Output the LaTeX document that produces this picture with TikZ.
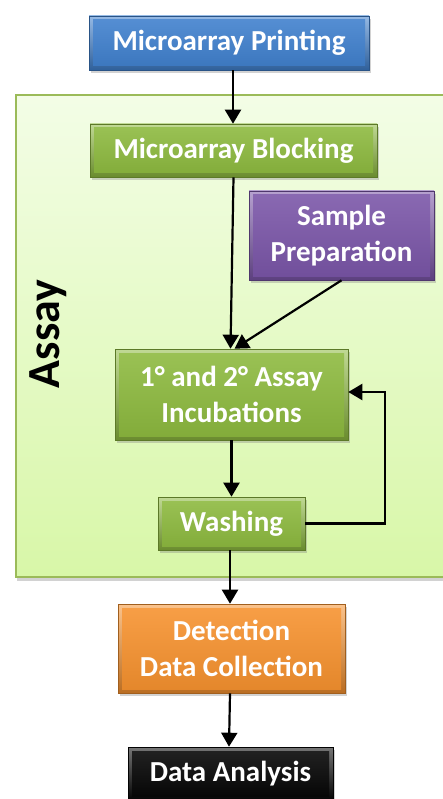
\documentclass[tikz,border=0pt]{standalone}
\usepackage{fontspec}
\setmainfont{Carlito}
\usetikzlibrary{shadows,arrows.meta}
\definecolor{blueC}{HTML}{3F80CE}
\definecolor{greenC}{HTML}{8DBA3E}
\definecolor{purpleC}{HTML}{7A55A8}
\definecolor{orangeC}{HTML}{F7922E}
\definecolor{blackC}{HTML}{050505}
\definecolor{frameC}{HTML}{9BBB59}
\definecolor{panelTop}{HTML}{F3FDE6}
\definecolor{panelBot}{HTML}{D8F7A8}
\tikzset{
  box/.style={rectangle, draw=#1!65!black, line width=0.6pt,
    top color=#1!55!white, bottom color=#1!75!black,
    text=white, font=\fontsize{29}{36}\selectfont\bfseries, align=center,
    inner sep=0pt,
    drop shadow={shadow xshift=2pt, shadow yshift=-3pt, opacity=0.35},
    path picture={\shade[top color=#1!88!white, bottom color=#1!92!black]
      ([shift={(4pt,-4pt)}]path picture bounding box.north west) rectangle
      ([shift={(-4pt,4pt)}]path picture bounding box.south east);}},
  arr/.style={line width=2.2pt, -{Triangle[width=16pt,length=14pt]}},
}
\begin{document}
\begin{tikzpicture}[x=1pt,y=-1pt]
\useasboundingbox (0,0) rectangle (442,799);
\fill[white] (0,0) rectangle (442,799);
% Assay panel
\path[draw=frameC, line width=2.5pt, top color=panelTop, bottom color=panelBot,
  drop shadow={shadow xshift=1pt, shadow yshift=-4pt, opacity=0.35}]
  (16,95) rectangle (460,577);
\node[rotate=90, font=\fontsize{46}{50}\selectfont\bfseries] (assay) at (48,334) {Assay};
% boxes
\node[box=blueC, minimum width=280pt, minimum height=54pt] (print) at (229,43) {Microarray Printing};
\node[box=greenC, minimum width=287pt, minimum height=53pt] (block) at (233.5,150.5) {Microarray Blocking};
\node[box=purpleC, minimum width=185pt, minimum height=89pt] (sample) at (341.5,235.5) {Sample\\Preparation};
\node[box=greenC, minimum width=233pt, minimum height=91pt] (inc) at (231.5,394.5) {1° and 2° Assay\\Incubations};
\node[box=greenC, minimum width=147pt, minimum height=53pt] (wash) at (231.5,523.5) {Washing};
\node[box=orangeC, minimum width=227pt, minimum height=89pt] (det) at (231.5,648.5) {Detection\\Data Collection};
\node[box=blackC, minimum width=205pt, minimum height=53pt] (ana) at (230.5,773.5) {Data Analysis};
% connectors
\coordinate (fb) at (385,392);
\draw[arr] ([xshift=4pt]print.south) -- ([xshift=-0.5pt]block.north);
\draw[arr] (block.south) -- ([xshift=-1pt]inc.north);
\draw[arr] (sample.south) -- ([xshift=3pt]inc.north);
\draw[arr] (inc.south) -- (wash.north);
\draw[arr] ([xshift=-1.5pt]wash.south) -- ([xshift=-1.5pt]det.north);
\draw[arr] ([xshift=-1.5pt]det.south) -- ([xshift=-1.5pt]ana.north);
\draw[arr] (wash.east) -- (wash.east -| fb) -- (fb) -- (fb -| inc.east);
\end{tikzpicture}
\end{document}
